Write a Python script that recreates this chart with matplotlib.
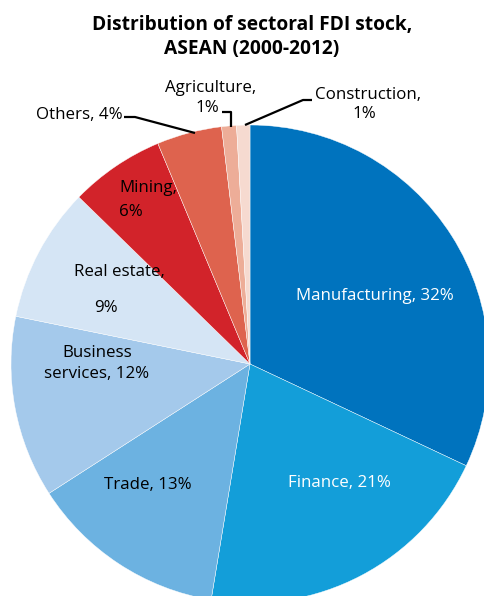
import matplotlib
matplotlib.use("Agg")
import matplotlib.pyplot as plt

plt.rcParams['font.family'] = ['Open Sans', 'DejaVu Sans']

sectors = ["Manufacturing", "Finance", "Trade", "Business services", "Real estate",
           "Mining", "Others", "Agriculture", "Construction"]
shares = [32.0, 20.6, 13.3, 12.3, 9.1, 6.4, 4.4, 1.0, 0.9]
pct_labels = ["32%", "21%", "13%", "12%", "9%", "6%", "4%", "1%", "1%"]
colors = ["#0073be", "#139ed9", "#6cb2e1", "#a4c9eb", "#d5e5f5",
          "#d2232a", "#de634e", "#edad98", "#f6dad0"]

W, H = 484, 596
fig = plt.figure(figsize=(W / 100, H / 100), dpi=100)
ax = fig.add_axes([0, 0, 1, 1])

def Y(y):
    return H - y

ax.pie(shares, colors=colors, startangle=90, counterclock=False,
       center=(250, Y(364)), radius=239, frame=True,
       wedgeprops=dict(edgecolor='white', linewidth=0.3))
ax.set_xlim(0, W)
ax.set_ylim(0, H)
ax.axis('off')
ax.set_aspect('auto')

fs = 12.2
tfs = 13.8
ax.text(252, Y(25), "Distribution of sectoral FDI stock,", ha='center', va='center',
        fontsize=tfs, fontweight='bold')
ax.text(252, Y(49), "ASEAN (2000-2012)", ha='center', va='center',
        fontsize=tfs, fontweight='bold')

ax.text(375, Y(296), f"{sectors[0]}, {pct_labels[0]}", ha='center', va='center',
        fontsize=fs, color='white')
ax.text(339, Y(483), f"{sectors[1]}, {pct_labels[1]}", ha='center', va='center',
        fontsize=fs, color='white')
ax.text(148, Y(485), f"{sectors[2]}, {pct_labels[2]}", ha='center', va='center',
        fontsize=fs, color='black')
ax.text(97, Y(353), "Business", ha='center', va='center', fontsize=fs)
ax.text(97, Y(374), f"services, {pct_labels[3]}", ha='center', va='center', fontsize=fs)
ax.text(119, Y(272), f"{sectors[4]},", ha='center', va='center', fontsize=fs)
ax.text(106, Y(308), pct_labels[4], ha='center', va='center', fontsize=fs)
ax.text(119, Y(188), f"{sectors[5]},", ha='left', va='center', fontsize=fs)
ax.text(119, Y(212), pct_labels[5], ha='left', va='center', fontsize=fs)
ax.text(123, Y(115), f"{sectors[6]}, {pct_labels[6]}", ha='right', va='center', fontsize=fs)
ax.text(211, Y(88), f"{sectors[7]},", ha='center', va='center', fontsize=fs)
ax.text(207, Y(108), pct_labels[7], ha='center', va='center', fontsize=fs)
ax.text(368, Y(95), f"{sectors[8]},", ha='center', va='center', fontsize=fs)
ax.text(364, Y(114), pct_labels[8], ha='center', va='center', fontsize=fs)

lw = 1.6
ax.plot([124, 135, 195], [Y(117), Y(117), Y(133)], color='black', lw=lw, solid_capstyle='butt')
ax.plot([222, 231, 231], [Y(112), Y(112), Y(127)], color='black', lw=lw, solid_capstyle='butt')
ax.plot([312, 303, 245], [Y(100), Y(100), Y(125)], color='black', lw=lw, solid_capstyle='butt')

fig.savefig("out.png", dpi=100)
